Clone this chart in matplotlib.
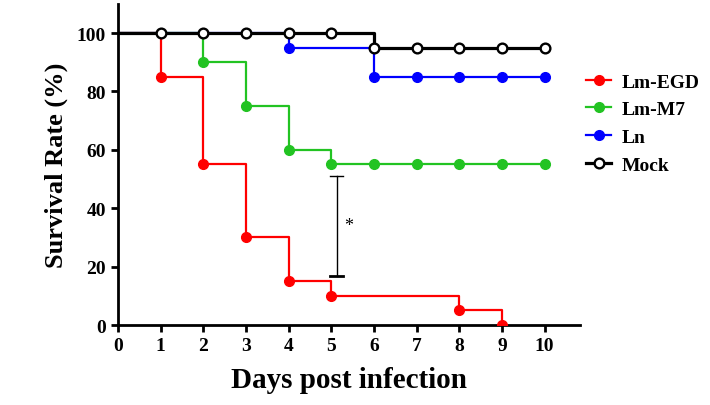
import matplotlib
matplotlib.use("Agg")
import matplotlib.pyplot as plt
import numpy as np

days = [0, 1, 2, 3, 4, 5, 6, 7, 8, 9, 10]
egd_x = [0, 1, 2, 3, 4, 5, 8, 9]
egd_y = [100, 85, 55, 30, 15, 10, 5, 0]
egd_mx = [1, 2, 3, 4, 5, 8, 9]
egd_my = [85, 55, 30, 15, 10, 5, 0]

m7_x = [0, 2, 3, 4, 5, 10]
m7_y = [100, 90, 75, 60, 55, 55]
m7_mx = [2, 3, 4, 5, 6, 7, 8, 9, 10]
m7_my = [90, 75, 60, 55, 55, 55, 55, 55, 55]

ln_x = [0, 4, 6, 10]
ln_y = [100, 95, 85, 85]
ln_mx = [4, 6, 7, 8, 9, 10]
ln_my = [95, 85, 85, 85, 85, 85]

mock_x = [0, 6, 10]
mock_y = [100, 95, 95]
mock_mx = [1, 2, 3, 4, 5, 6, 7, 8, 9, 10]
mock_my = [100, 100, 100, 100, 100, 95, 95, 95, 95, 95]

sig_x = 5.13
sig_lo, sig_hi = 16.8, 50.9
sig_label = "*"

plt.rcParams['font.family'] = ['Liberation Serif', 'DejaVu Serif']
plt.rcParams['font.weight'] = 'bold'

fig = plt.figure(figsize=(7.10, 4.06), dpi=100)
ax = fig.add_axes([0.166, 0.197, 0.651, 0.791])

red = '#FF0000'
green = '#22C322'
blue = '#0000FF'

ax.step(egd_x, egd_y, where='post', color=red, lw=1.6, zorder=2)
ax.plot(egd_mx, egd_my, 'o', color=red, ms=7, zorder=3)
ax.step(m7_x, m7_y, where='post', color=green, lw=1.6, zorder=2)
ax.plot(m7_mx, m7_my, 'o', color=green, ms=7, zorder=3)
ax.step(ln_x, ln_y, where='post', color=blue, lw=1.6, zorder=2)
ax.plot(ln_mx, ln_my, 'o', color=blue, ms=7, zorder=3)
ax.step(mock_x, mock_y, where='post', color='black', lw=2.3, zorder=4)
ax.plot(mock_mx, mock_my, 'o', color='black', mfc='white', mew=1.7, ms=7, zorder=5)

# legend handles
h1, = ax.plot([], [], '-o', color=red, lw=1.6, ms=7)
h2, = ax.plot([], [], '-o', color=green, lw=1.6, ms=7)
h3, = ax.plot([], [], '-o', color=blue, lw=1.6, ms=7)
h4, = ax.plot([], [], '-o', color='black', mfc='white', mew=1.7, lw=2.3, ms=7)
leg = fig.legend([h1, h2, h3, h4], ['Lm-EGD', 'Lm-M7', 'Ln', 'Mock'],
                 loc='upper left', bbox_to_anchor=(0.826, 0.818), frameon=False,
                 borderpad=0, borderaxespad=0,
                 prop={'family': 'Liberation Serif', 'weight': 'bold', 'size': 14},
                 handlelength=1.25, labelspacing=0.52, handletextpad=0.55)

# significance bracket
ax.plot([sig_x, sig_x], [sig_lo, sig_hi], color='black', lw=1.0, zorder=1)
ax.plot([sig_x - 0.15, sig_x + 0.15], [sig_hi, sig_hi], color='black', lw=1.0)
ax.plot([sig_x - 0.15, sig_x + 0.15], [sig_lo, sig_lo], color='black', lw=2.0)
ax.text(sig_x + 0.27, 34.0, sig_label, ha='center', va='center', fontsize=13, fontweight='normal')

ax.set_xlim(0, 10.83)
ax.set_ylim(0, 110)
ax.set_xticks(days)
ax.set_yticks([0, 20, 40, 60, 80, 100])
ax.spines['top'].set_visible(False)
ax.spines['right'].set_visible(False)
for s in ['left', 'bottom']:
    ax.spines[s].set_linewidth(2.0)
ax.tick_params(width=2.0, length=5, labelsize=14, direction='out')
for lab in ax.get_xticklabels() + ax.get_yticklabels():
    lab.set_fontweight('bold')
ax.set_xlabel('Days post infection', fontsize=21, fontweight='bold', labelpad=9)
ax.set_ylabel('Survival Rate (%)', fontsize=19, fontweight='bold', labelpad=6)

fig.savefig('out.png', dpi=100)
